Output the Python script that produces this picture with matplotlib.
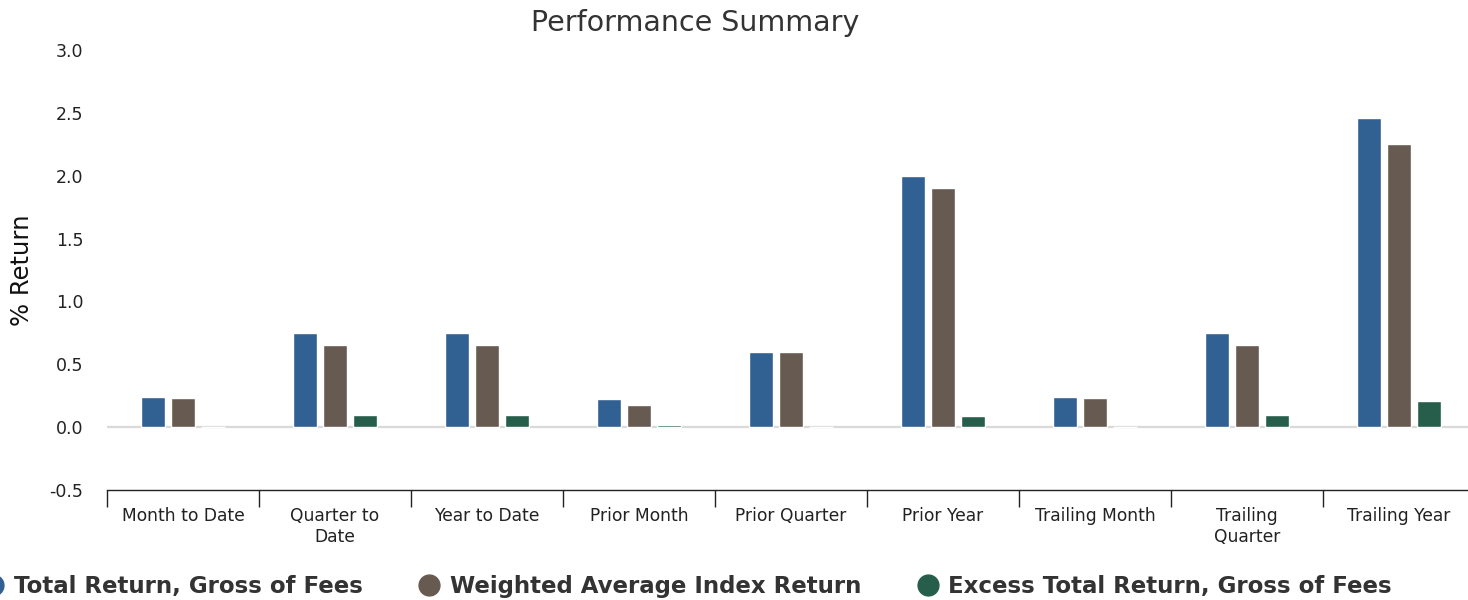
import numpy as np
import matplotlib.pyplot as plt
from matplotlib.lines import Line2D

categorias = ['Month to Date', 'Quarter to\nDate', 'Year to Date', 'Prior Month',
              'Prior Quarter', 'Prior Year', 'Trailing Month', 'Trailing\nQuarter',
              'Trailing Year']
total_bruto = [0.24, 0.75, 0.75, 0.22, 0.60, 2.00, 0.24, 0.75, 2.46]
indice_medio = [0.23, 0.65, 0.65, 0.18, 0.60, 1.90, 0.23, 0.65, 2.25]
excesso = [0.0, 0.10, 0.10, 0.02, 0.0, 0.09, 0.0, 0.10, 0.21]
series_nomes = ['Total Return, Gross of Fees', 'Weighted Average Index Return',
                'Excess Total Return, Gross of Fees']
cores = ['#316092', '#675a51', '#265e4b']

plt.rcParams['font.family'] = ['DejaVu Sans']

fig = plt.figure(figsize=(14.68, 6), dpi=100)
ax = fig.add_axes([107 / 1468, 110 / 600, 1368 / 1468, 440 / 600])

x = np.arange(len(categorias))
largura = 0.158
desloc = 0.197
for i, (valores, cor) in enumerate(zip([total_bruto, indice_medio, excesso], cores)):
    ax.bar(x + (i - 1) * desloc, valores, width=largura, color=cor,
           edgecolor='white', linewidth=1, zorder=3)

# linha do zero
ax.axhline(0, color='#d9d9d9', linewidth=1.6, zorder=2)

ax.set_xlim(-0.5, len(categorias) - 0.5)
ax.set_ylim(-0.5, 3.0)
ax.set_yticks(np.arange(-0.5, 3.01, 0.5))
ax.set_yticklabels([f'{v:.1f}' for v in np.arange(-0.5, 3.01, 0.5)])
ax.tick_params(axis='y', length=0, pad=17, labelsize=12.5, labelcolor='#222222')

ax.set_xticks(x)
ax.set_xticklabels(categorias, fontsize=12.3, color='#222222', linespacing=1.25)
ax.tick_params(axis='x', length=0, pad=12)
ax.set_xticks(np.arange(-0.5, len(categorias), 1.0), minor=True)
ax.tick_params(axis='x', which='minor', length=12, width=1, color='#222222')

for lado in ['top', 'right', 'left']:
    ax.spines[lado].set_visible(False)
ax.spines['bottom'].set_color('#222222')
ax.spines['bottom'].set_linewidth(1)

ax.set_ylabel('% Return', fontsize=17.5, color='#111111')
ax.yaxis.set_label_coords(-73 / 1368, 0.5)
fig.text(695 / 1468, 1 - 23 / 600, 'Performance Summary', fontsize=20.5,
         color='#333333', ha='center', va='center')

handles = [Line2D([], [], marker='o', linestyle='none', markersize=15,
                  markerfacecolor=c, markeredgecolor=c) for c in cores]
fig.legend(handles, series_nomes, loc='center', bbox_to_anchor=(681 / 1468, 1 - 587 / 600),
           ncol=3, frameon=False, handletextpad=-0.1, columnspacing=1.9,
           prop={'size': 16.5, 'weight': 'bold'}, labelcolor='#333333')

plt.savefig('out.png', dpi=100)
